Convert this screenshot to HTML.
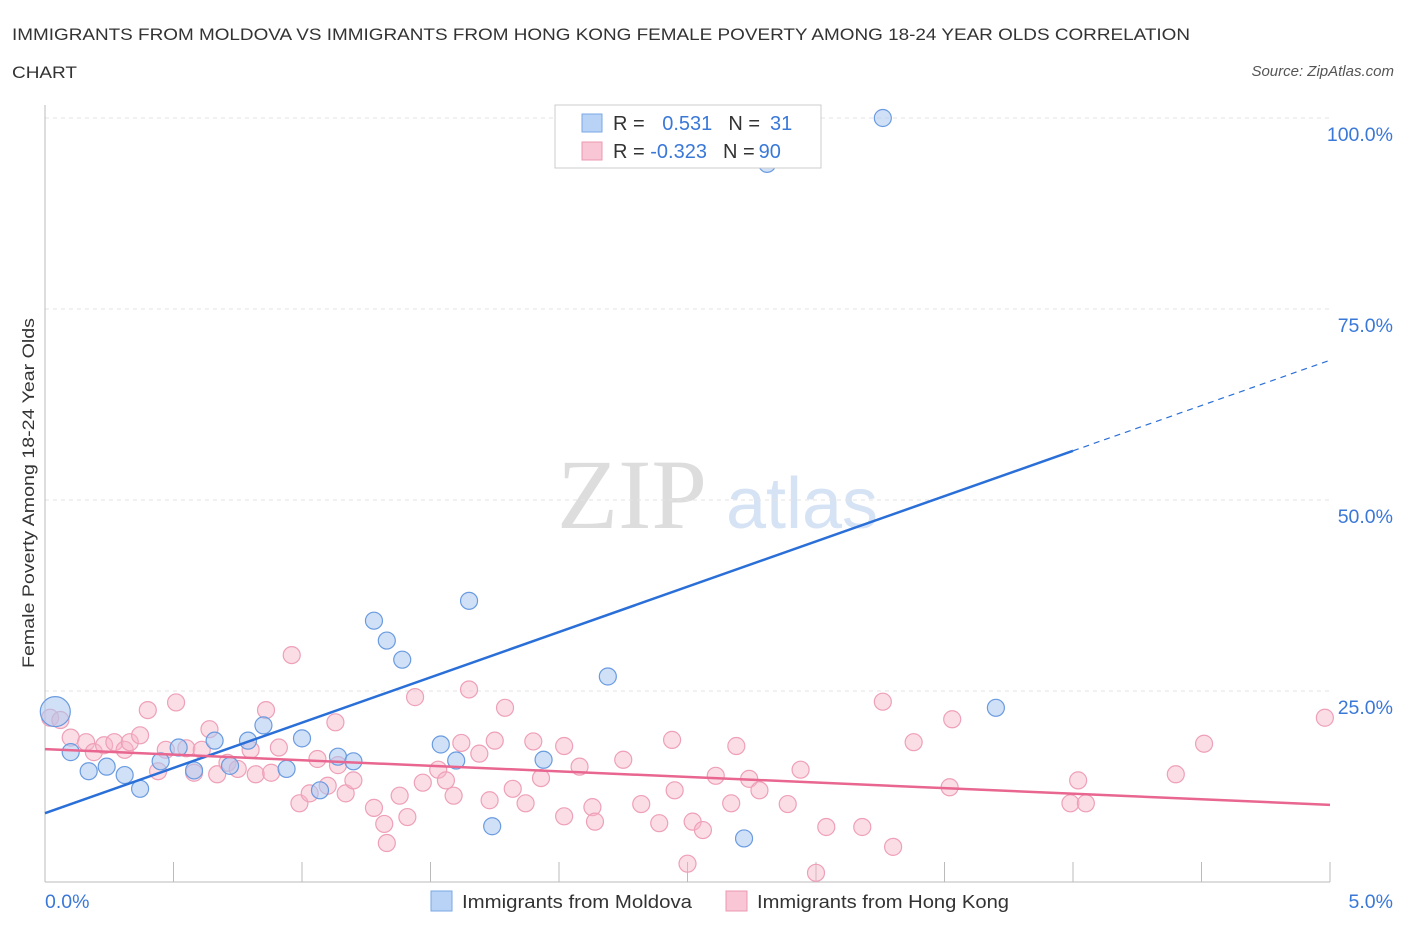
<!DOCTYPE html>
<html><head><meta charset="utf-8"><style>
body{margin:0;background:#fff;font-family:"Liberation Sans",sans-serif;}
svg text{font-family:"Liberation Sans",sans-serif;}
</style></head><body>
<svg id="c" width="1406" height="930">
<text x="12" y="40" font-size="17" fill="#333" textLength="1178" lengthAdjust="spacingAndGlyphs">IMMIGRANTS FROM MOLDOVA VS IMMIGRANTS FROM HONG KONG FEMALE POVERTY AMONG 18-24 YEAR OLDS CORRELATION</text>
<text x="12" y="78" font-size="17" fill="#333" textLength="65" lengthAdjust="spacingAndGlyphs">CHART</text>
<text x="1394" y="76" font-size="15" fill="#555" font-style="italic" text-anchor="end">Source: ZipAtlas.com</text>
<text x="34" y="493" font-size="17" fill="#333" text-anchor="middle" textLength="350" lengthAdjust="spacingAndGlyphs" transform="rotate(-90 34 493)">Female Poverty Among 18-24 Year Olds</text>
<text x="632" y="528" font-size="100" fill="#ddd" font-family="Liberation Serif" text-anchor="middle" style="font-family:'Liberation Serif',serif">ZIP</text>
<text x="802" y="528" font-size="72" fill="#d5e3f5" text-anchor="middle">atlas</text>
<g id="grid"></g><g id="marks"></g>
<g>
<rect x="555" y="105" width="266" height="63" fill="#fff" stroke="#ccc"/>
<rect x="582" y="114" width="20" height="18" fill="#b8d3f5" stroke="#7aa8e6"/>
<text x="613" y="130" font-size="20" fill="#333">R = <tspan fill="#3a78d8" dx="12">0.531</tspan><tspan fill="#333" dx="16">N =</tspan><tspan fill="#3a78d8" dx="10">31</tspan></text>
<rect x="582" y="142" width="20" height="18" fill="#f8c6d4" stroke="#ec98b0"/>
<text x="613" y="158" font-size="20" fill="#333">R = <tspan fill="#3a78d8" dx="0">-0.323</tspan><tspan fill="#333" dx="16">N =</tspan><tspan fill="#3a78d8" dx="4">90</tspan></text>
</g>
<g>
<rect x="431" y="891" width="21" height="20" fill="#b8d3f5" stroke="#7aa8e6"/>
<text x="462" y="908" font-size="18" fill="#333" textLength="230" lengthAdjust="spacingAndGlyphs">Immigrants from Moldova</text>
<rect x="726" y="891" width="21" height="20" fill="#f8c6d4" stroke="#ec98b0"/>
<text x="757" y="908" font-size="18" fill="#333" textLength="252" lengthAdjust="spacingAndGlyphs">Immigrants from Hong Kong</text>
</g>
</svg>
<script>
const xTicks=[0,0.5,1,1.5,2,2.5,3,3.5,4,4.5,5];
const yTicks=[25,50,75,100];
const yTickLabels=["25.0%","50.0%","75.0%","100.0%"];
const blueX=[0.04,0.10,0.17,0.24,0.31,0.37,0.45,0.52,0.58,0.66,0.72,0.79,0.85,0.94,1.00,1.07,1.14,1.20,1.28,1.33,1.39,1.54,1.60,1.65,1.74,1.94,2.19,2.72,2.81,3.26,3.70];
const blueY=[22.3,17.0,14.5,15.1,14.0,12.2,15.8,17.6,14.6,18.5,15.2,18.5,20.5,14.8,18.8,12.0,16.4,15.8,34.2,31.6,29.1,18.0,15.9,36.8,7.3,16.0,26.9,5.7,94.0,100.0,22.8];
const pinkX=[0.02,0.06,0.10,0.16,0.19,0.23,0.27,0.31,0.33,0.37,0.40,0.44,0.47,0.51,0.55,0.58,0.61,0.64,0.67,0.71,0.75,0.80,0.82,0.86,0.88,0.91,0.96,0.99,1.03,1.06,1.10,1.13,1.17,1.20,1.14,1.28,1.32,1.33,1.38,1.41,1.44,1.47,1.53,1.56,1.59,1.62,1.65,1.69,1.73,1.75,1.79,1.82,1.87,1.90,1.93,2.02,2.02,2.08,2.13,2.14,2.25,2.32,2.39,2.44,2.45,2.50,2.52,2.56,2.61,2.67,2.69,2.74,2.78,2.89,2.94,3.04,3.00,3.18,3.26,3.30,3.38,3.53,3.52,3.99,4.02,4.05,4.40,4.51,4.98];
const pinkY=[21.5,21.2,18.9,18.3,17.0,17.9,18.3,17.3,18.3,19.2,22.5,14.5,17.3,23.5,17.5,14.3,17.3,20.0,14.1,15.6,14.8,17.3,14.1,22.5,14.3,17.6,29.7,10.3,11.6,16.1,12.6,20.9,11.6,13.3,15.3,9.7,7.6,5.1,11.3,8.5,24.2,13.0,14.7,13.3,11.3,18.2,25.2,16.8,10.7,18.5,22.8,12.2,10.3,18.4,13.6,8.6,17.8,15.1,9.8,7.9,16.0,10.2,7.7,18.6,12.0,2.4,7.9,6.8,13.9,10.3,17.8,13.5,12.0,10.2,14.7,7.2,1.2,7.2,23.6,4.6,18.3,21.3,12.4,10.3,13.3,10.3,14.1,18.1,21.5];
const blueLine=[9.0,68.3], blueSolidEnd=4.0;
const pinkLine=[17.4,10.1];
const X=v=>45+v*257, Y=v=>882-v*7.64;
const NS="http://www.w3.org/2000/svg";
function mk(tag,attrs,parent){const e=document.createElementNS(NS,tag);for(const k in attrs)e.setAttribute(k,attrs[k]);parent.appendChild(e);return e;}
const grid=document.getElementById('grid'), marks=document.getElementById('marks');
yTicks.forEach((t,i)=>{
 const l=mk('line',{x1:45,x2:1330,y1:Y(t),y2:Y(t),stroke:'#e3e3e3','stroke-dasharray':'4,4'},grid);
 
 
 const tx=mk('text',{x:1393,y:Y(t)+23,'font-size':19.5,fill:'#3a78d8','text-anchor':'end'},grid);
 tx.textContent=yTickLabels[i];
 
 
});
const ax=mk('line',{x1:45,x2:45,y1:105,y2:882,stroke:'#bbb'},grid);


const xa=mk('line',{x1:45,x2:1330,y1:882,y2:882,stroke:'#bbb'},grid);


xTicks.forEach(t=>{
 const l=mk('line',{x1:X(t),x2:X(t),y1:862,y2:882,stroke:'#bbb'},grid);
 
 
});
[[0,"0.0%","start",45],[5,"5.0%","end",1393]].forEach(a=>{
 const tx=mk('text',{x:a[3],y:908,'font-size':19.5,fill:'#3a78d8','text-anchor':a[2]},grid);
 tx.textContent=a[1];
 
 
});
pinkX.forEach((x,i)=>{
 const c=mk('circle',{cx:X(x),cy:Y(pinkY[i]),r:8.5,fill:'rgba(246,180,200,0.45)',stroke:'#eea0b8','stroke-width':1.2},marks);
 
 
});
blueX.forEach((x,i)=>{
 const c=mk('circle',{cx:X(x),cy:Y(blueY[i]),r:i==0?15:8.5,fill:'rgba(170,200,240,0.55)',stroke:'#6a9be0','stroke-width':1.2},marks);
 
 
});
const by=x=>blueLine[0]+(blueLine[1]-blueLine[0])*x/5;
const b1=mk('line',{x1:X(0),y1:Y(by(0)),x2:X(blueSolidEnd),y2:Y(by(blueSolidEnd)),stroke:'#2a6fd8','stroke-width':2.5},marks);


const b2=mk('line',{x1:X(blueSolidEnd),y1:Y(by(blueSolidEnd)),x2:X(5),y2:Y(by(5)),stroke:'#2a6fd8','stroke-width':1.2,'stroke-dasharray':'6,5'},marks);


const p=mk('line',{x1:X(0),y1:Y(pinkLine[0]),x2:X(5),y2:Y(pinkLine[1]),stroke:'#e8668f','stroke-width':2.5},marks);


</script>
</body></html>
